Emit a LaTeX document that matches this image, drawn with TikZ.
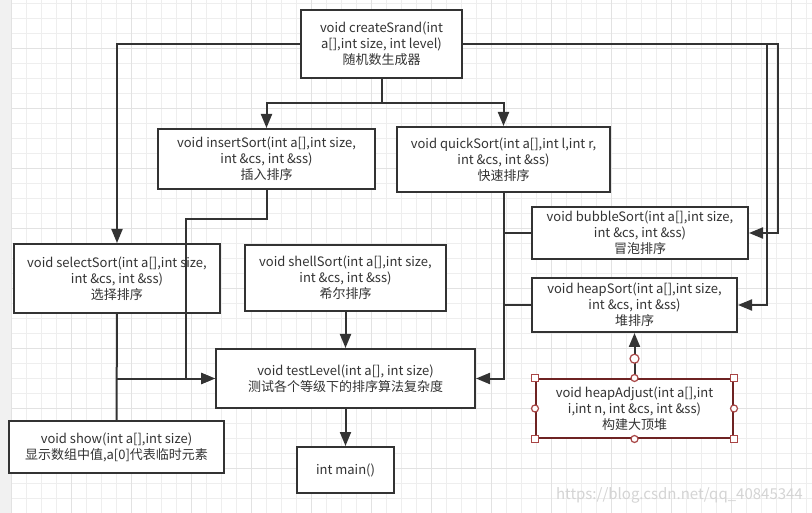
\documentclass[tikz,border=0pt]{standalone}
\usepackage{fontspec}
\setmainfont{Noto Sans CJK SC}
\usetikzlibrary{arrows.meta}
\definecolor{ink}{HTML}{333333}
\definecolor{gridminor}{HTML}{EEEEEE}
\definecolor{gridmajor}{HTML}{E2E2E2}
\definecolor{sidebar}{HTML}{F1F1F1}
\definecolor{selborder}{HTML}{6E2323}
\definecolor{handle}{HTML}{A84545}
\definecolor{wmark}{HTML}{D4D4D4}
\tikzset{
  box/.style={draw=ink, line width=2pt, fill=white, align=center, text=ink,
    font=\fontsize{13}{16}\selectfont, inner sep=0pt},
  link/.style={draw=ink, line width=2pt},
  arr/.style={link, -{Triangle[length=14pt,width=11pt]}},
  sqhandle/.style={draw=handle, fill=white, line width=1.2pt, minimum size=7pt, inner sep=0pt},
  rdhandle/.style={circle, draw=handle, fill=white, line width=1.2pt, minimum size=7pt, inner sep=0pt},
}
\begin{document}
\begin{tikzpicture}[x=1pt,y=-1pt]
\useasboundingbox (0,0) rectangle (812,513);
% canvas with grid
\fill[white] (0,0) rectangle (812,513);
\fill[sidebar] (0,0) rectangle (11.7,513);
\foreach \i in {0,...,53} {
  \pgfmathsetmacro{\gx}{11.7+15*\i}
  \draw[gridminor, line width=1pt] (\gx,0) -- (\gx,513);
}
\foreach \i in {0,...,34} {
  \pgfmathsetmacro{\gy}{3.3+15*\i}
  \draw[gridminor, line width=1pt] (11.7,\gy) -- (812,\gy);
}
\foreach \i in {0,...,13} {
  \pgfmathsetmacro{\gx}{11.7+60*\i}
  \draw[gridmajor, line width=1pt] (\gx,0) -- (\gx,513);
}
\foreach \i in {0,...,8} {
  \pgfmathsetmacro{\gy}{48.3+60*\i}
  \draw[gridmajor, line width=1pt] (11.7,\gy) -- (812,\gy);
}

% function boxes
\node[box, minimum width=161pt, minimum height=68pt] (cs) at (381.5,44) {void createSrand(int\\a[],int size, int level)\\随机数生成器};
\node[box, minimum width=217pt, minimum height=60pt] (ins) at (266.5,159) {void insertSort(int a[],int size,\\int \&cs, int \&ss)\\插入排序};
\node[box, minimum width=213pt, minimum height=65pt] (qs) at (503.5,159.5) {void quickSort(int a[],int l,int r,\\int \&cs, int \&ss)\\快速排序};
\node[box, minimum width=206pt, minimum height=69pt] (sel) at (117,278.5) {void selectSort(int a[],int size,\\int \&cs, int \&ss)\\选择排序};
\node[box, minimum width=201pt, minimum height=66pt] (shl) at (345.5,278) {void shellSort(int a[],int size,\\int \&cs, int \&ss)\\希尔排序};
\node[box, minimum width=259pt, minimum height=59pt] (tl) at (345.5,378.5) {void testLevel(int a[], int size)\\测试各个等级下的排序算法复杂度};
\node[box, minimum width=215pt, minimum height=52pt] (shw) at (116.5,447) {void show(int a[],int size)\\显示数组中值,a[0]代表临时元素};
\node[box, minimum width=97pt, minimum height=46pt] (mn) at (345.5,470) {int main()};
\node[box, minimum width=216pt, minimum height=52pt] (bub) at (640,233) {void bubbleSort(int a[],int size,\\int \&cs, int \&ss)\\冒泡排序};
\node[box, minimum width=205pt, minimum height=54pt] (hps) at (634.5,305) {void heapSort(int a[],int size,\\int \&cs, int \&ss)\\堆排序};
\node[box, draw=selborder, minimum width=197pt, minimum height=59pt] (hpa) at (634.5,408.5) {void heapAdjust(int a[],int\\i,int n, int \&cs, int \&ss)\\构建大顶堆};

% connectors from the generator
\coordinate (rA) at (777.7,44);
\coordinate (rB) at (767,44);
\coordinate (split) at (381.5,102.7);
\draw[arr] (cs.west) -| (sel.north);
\draw[arr] (cs.south) -- (split) -| (ins.north);
\draw[arr] (split) -| (qs.north);
\draw[arr] (cs.east) -- (rA) |- (bub.east);
\draw[arr] (rB) |- (hps.east);

% connectors into testLevel
\coordinate (bend) at (185.7,219);
\draw[arr] (ins.south) |- (bend) |- (tl.west);
\draw[link] (sel.south) -- (shw.north);
\draw[arr] (sel.south |- tl.west) -- (tl.west);
\draw[arr] (shl.south) -- (tl.north);
\draw[arr] (qs.south) |- (tl.east);
\draw[link] (bub.west) -- (bub.west -| qs.south);
\draw[link] (hps.west) -- (hps.west -| qs.south);
\draw[arr] (tl.south) -- (mn.north);

% heapAdjust feeds heapSort
\draw[arr] (hpa.north) -- (hps.south);

% selection handles around heapAdjust
\foreach \a in {north west, north east, south west, south east}
  \node[sqhandle] at (hpa.\a) {};
\foreach \a in {north, south, west, east}
  \node[rdhandle] at (hpa.\a) {};
\node[rdhandle, minimum size=9pt] (rot) at (634.5,358.7) {};

% watermark
\node[anchor=east, text=wmark, font=\fontsize{15}{15}\selectfont, inner sep=0pt] (wm) at (803,495) {https://blog.csdn.net/qq\_40845344};
\end{tikzpicture}
\end{document}
